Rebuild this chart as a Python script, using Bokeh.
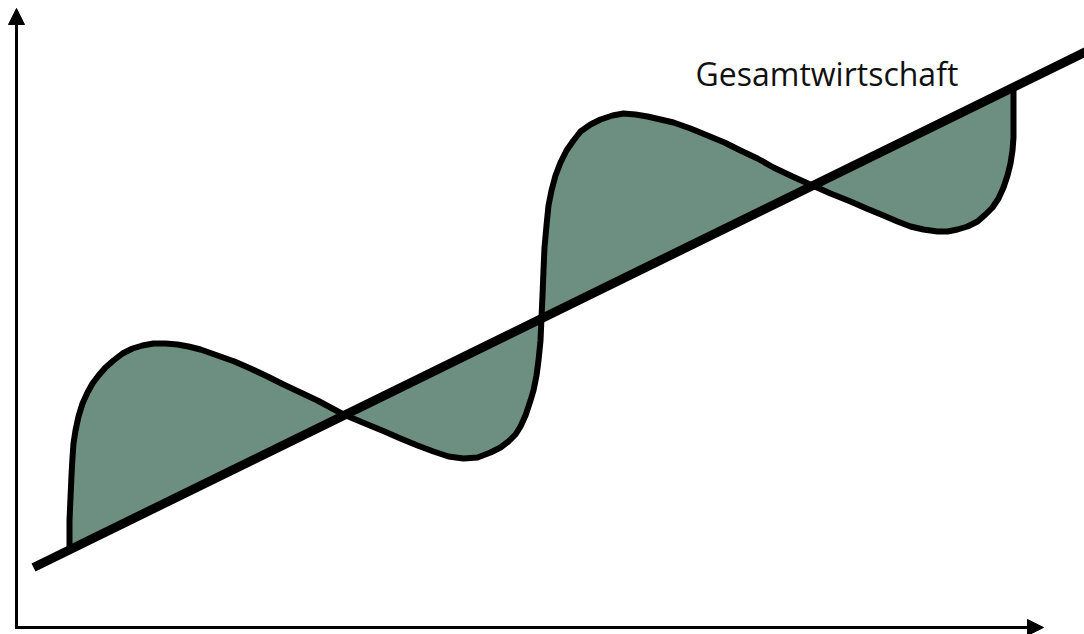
from bokeh.plotting import figure
from bokeh.models import Range1d, Arrow, NormalHead, ColumnDataSource
from bokeh.core.properties import value
from bokeh.embed import file_html
from bokeh.resources import INLINE

# Trend line (Gesamtwirtschaft)
trend_x = [17, 1080]
trend_y = [60, 581]

# Sector cycle around the trend
wave_x = [53, 53, 54, 55, 56, 57, 59, 62, 66, 71, 76, 82, 89, 97, 106, 116, 126, 137,
          149, 161, 172, 184, 201, 218, 234, 251, 267, 284, 301, 314, 327, 339, 351,
          368, 384, 401, 417, 432, 447, 461, 474, 484, 492, 499, 504, 509, 514, 517,
          520, 522, 524, 525, 526, 527, 528, 530, 532, 535, 539, 544, 550, 557, 564,
          574, 584, 596, 607, 619, 631, 644, 657, 674, 691, 708, 724, 741, 757, 776,
          796, 814, 834, 850, 867, 881, 894, 907, 921, 931, 941, 951, 961, 969, 976,
          982, 987, 991, 994, 996, 997, 997, 997]
wave_y = [78, 107, 130, 152, 170, 184, 197, 211, 224, 235, 244, 252, 260, 267, 274, 279,
          282, 284, 284, 283, 281, 278, 272, 266, 259, 251, 243, 235, 227, 220, 213, 208,
          203, 196, 189, 182, 176, 171, 169, 170, 175, 180, 186, 193, 201, 212, 227, 237,
          252, 267, 287, 310, 332, 357, 380, 402, 422, 437, 452, 465, 477, 487, 496, 503,
          508, 512, 514, 513, 511, 508, 505, 499, 492, 485, 477, 469, 460, 451, 442, 434,
          426, 419, 412, 406, 401, 398, 396, 396, 398, 401, 406, 413, 420, 429, 440, 452,
          464, 477, 490, 512, 540]

# Axis extents
x_axis_end = 1027
y_axis_end = 619

label_text = ["Gesamtwirtschaft"]
label_x = [679]
label_y = [554]

p = figure(width=1084, height=634, output_backend="svg", toolbar_location=None,
           x_range=Range1d(-16, 1068), y_range=Range1d(-7, 627),
           x_axis_location=None, y_axis_location=None,
           min_border=0, min_border_left=0, min_border_right=0,
           min_border_top=0, min_border_bottom=0)
p.outline_line_color = None
p.grid.visible = False
p.background_fill_color = "white"
p.border_fill_color = "white"

p.patch(wave_x, wave_y, fill_color="#6d8f81", line_color=None)
p.line(wave_x, wave_y, line_color="black", line_width=6, line_join="round")
p.line(trend_x, trend_y, line_color="black", line_width=9, line_cap="butt")

p.add_layout(Arrow(end=NormalHead(size=16, fill_color="black", line_color="black", line_width=1),
                   x_start=0, y_start=-1.5, x_end=0, y_end=y_axis_end,
                   line_color="black", line_width=3))
p.add_layout(Arrow(end=NormalHead(size=16, fill_color="black", line_color="black", line_width=1),
                   x_start=-1.5, y_start=0, x_end=x_axis_end, y_end=0,
                   line_color="black", line_width=3))

src = ColumnDataSource(dict(x=label_x, y=label_y, t=label_text))
p.text(x="x", y="y", text="t", source=src, text_font=value("Open Sans"),
       text_font_size="32px", text_color="#111111", text_baseline="alphabetic",
       text_align="left")

open("out.html", "w").write(file_html(p, INLINE))
